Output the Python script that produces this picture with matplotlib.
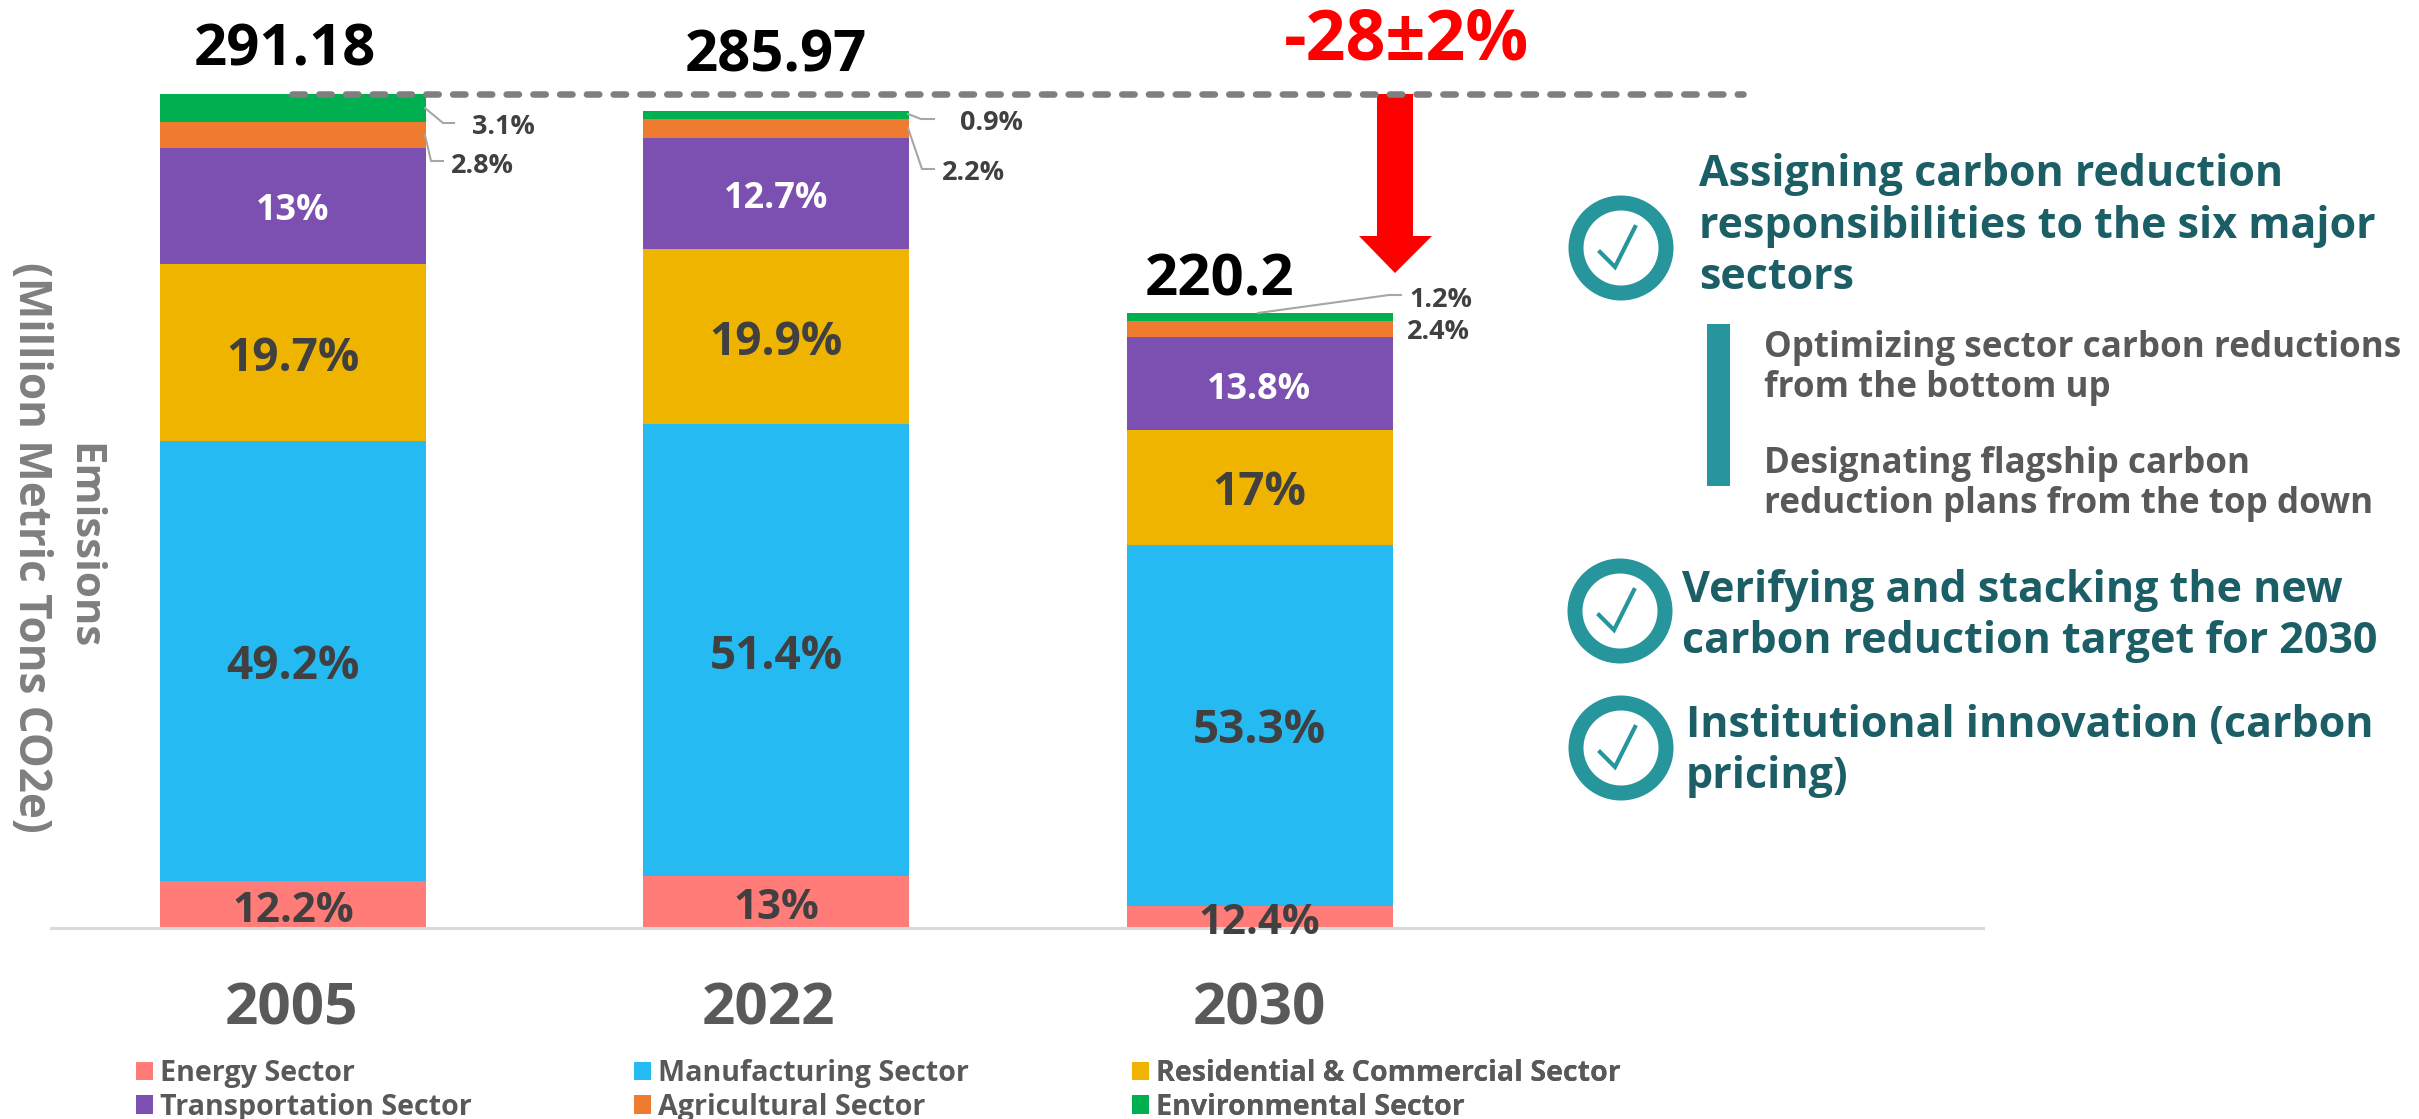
import matplotlib
matplotlib.use("Agg")
import matplotlib.pyplot as plt
from matplotlib.patches import Polygon, Ellipse, Rectangle
from matplotlib.transforms import ScaledTranslation

plt.rcParams['font.family'] = ['Open Sans', 'DejaVu Sans']
W, H = 2419, 1119

# ---- data (bar heights, million metric tons) ----
years = ["2005", "2022", "2030"]
sectors = ["Energy Sector", "Manufacturing Sector", "Residential & Commercial Sector",
           "Transportation Sector", "Agricultural Sector", "Environmental Sector"]
energy = [16.4, 18.2, 7.7]
manufacturing = [153.6, 157.8, 126.0]
residential = [61.8, 61.1, 40.2]
transportation = [40.5, 38.8, 32.5]
agricultural = [9.1, 6.6, 5.6]
environmental = [9.8, 2.8, 2.8]
totals = ["291.18", "285.97", "220.2"]
pct_energy = ["12.2%", "13%", "12.4%"]
pct_manufacturing = ["49.2%", "51.4%", "53.3%"]
pct_residential = ["19.7%", "19.9%", "17%"]
pct_transportation = ["13%", "12.7%", "13.8%"]
pct_agricultural = ["2.8%", "2.2%", "2.4%"]
pct_environmental = ["3.1%", "0.9%", "1.2%"]
series = [energy, manufacturing, residential, transportation, agricultural, environmental]
colors = ["#FF7C78", "#25BBF2", "#EFB400", "#7B50B0", "#EE7B30", "#00B050"]

TEAL = "#26959C"
DTEAL = "#1B5E65"
GREY = "#595959"
DARK = "#404040"

fig = plt.figure(figsize=(W / 100, H / 100), dpi=100, facecolor="white")
ax = fig.add_axes([51 / W, 1 - 928 / H, 1932 / W, 928 / H])
ax.set_xlim(-0.5, 3.495)
ax.set_ylim(0, 324.0)

bottom = [0, 0, 0]
for vals, c, name in zip(series, colors, sectors):
    ax.bar(range(3), vals, width=0.55, bottom=bottom, color=c, label=name)
    bottom = [b + v for b, v in zip(bottom, vals)]

for s in ("top", "left", "right"):
    ax.spines[s].set_visible(False)
ax.spines["bottom"].set_color("#D9D9D9")
ax.spines["bottom"].set_linewidth(2.2)
ax.set_yticks([])
ax.set_xticks(range(3))
ax.set_xticklabels(years, fontsize=42, fontweight="bold", color=GREY)
ax.tick_params(axis="x", length=0, pad=38)
offs = [-1, -8, -1]
for lab, o in zip(ax.get_xticklabels(), offs):
    lab.set_transform(lab.get_transform() + ScaledTranslation(o / 100, 0, fig.dpi_scale_trans))

ov = fig.add_axes([0, 0, 1, 1], facecolor="none")
ov.set_xlim(0, W)
ov.set_ylim(H, 0)
ov.axis("off")


def T(x, y, s, px, color=DARK, ha="center", **kw):
    ov.text(x, y, s, fontsize=px * 0.72, color=color, ha=ha, va="baseline",
            fontweight="bold", **kw)


# totals
for x, y, s in zip([285, 776, 1220], [66, 71, 296], totals):
    T(x, y, s, 58, "black")

# in-bar labels
for x, y, s in zip([293, 776, 1259], [922, 919, 934], pct_energy):
    T(x, y, s, 42)
for x, y, s in zip([293, 776, 1259], [679, 669, 743], pct_manufacturing):
    T(x, y, s, 46)
for x, y, s in zip([293, 776, 1259], [371, 355, 505], pct_residential):
    T(x, y, s, 46)
for x, y, s in zip([293, 776, 1259], [220, 208, 399], pct_transportation):
    T(x, y, s, 36, "white")
for x, y, s in zip([451, 942, 1407], [173, 180, 339], pct_agricultural):
    T(x, y, s, 27, ha="left")
for x, y, s in zip([472, 960, 1409], [134, 130, 307], pct_environmental):
    T(x, y, s, 27, ha="left")

# leader lines
leaders = [[(425, 108), (443, 123), (454, 123)], [(425, 135), (431, 161), (443, 161)],
           [(908, 114), (921, 119), (934, 119)], [(908, 128), (922, 169), (934, 169)],
           [(1258, 313), (1389, 295), (1401, 295)]]
for pts in leaders:
    ov.plot([p[0] for p in pts], [p[1] for p in pts], color="#A6A6A6", lw=1.5)

# dashed reference line and arrow
ov.plot([292, 1743], [94, 94], color="#7F7F7F", lw=4.7, dash_capstyle="round",
        linestyle=(0, (1.9, 2.2)))
ov.add_patch(Polygon([(1377, 94), (1413, 94), (1413, 236), (1432, 236), (1395, 273),
                      (1359, 236), (1377, 236)], closed=True, fc="#FF0000", ec="none"))
T(1406, 59, "-28±2%", 70, "#FF0000")

# y-axis caption
ov.text(83, 546, "Emissions", rotation=270, fontsize=42 * 0.72, color="#7F7F7F",
        fontweight="bold", ha="center", va="center")
ov.text(30, 547, "(Million Metric Tons CO2e)", rotation=270, fontsize=44 * 0.72,
        color="#7F7F7F", fontweight="bold", ha="center", va="center")

# right-hand notes
for cx, cy in [(1621, 248), (1620, 611), (1621, 748)]:
    ov.add_patch(Ellipse((cx, cy), 90, 90, fc="white", ec=TEAL, lw=15 * 0.72))
    ov.plot([cx - 21, cx - 6, cx + 14], [cy + 4, cy + 19, cy - 21], color=TEAL, lw=3,
            solid_joinstyle="miter")
ov.add_patch(Rectangle((1707, 324), 23, 162, fc=TEAL, ec="none"))

for x, y, s in [(1699, 186, "Assigning carbon reduction"),
                (1699, 238, "responsibilities to the six major"),
                (1699, 289, "sectors"),
                (1682, 602, "Verifying and stacking the new"),
                (1682, 653, "carbon reduction target for 2030"),
                (1686, 737, "Institutional innovation (carbon"),
                (1686, 788, "pricing)")]:
    T(x, y, s, 43, DTEAL, ha="left")
for x, y, s in [(1764, 357, "Optimizing sector carbon reductions"),
                (1764, 397, "from the bottom up"),
                (1764, 473, "Designating flagship carbon"),
                (1764, 513, "reduction plans from the top down")]:
    T(x, y, s, 35, GREY, ha="left")

# legend, one block per column
handles, labels = ax.get_legend_handles_labels()
cols = [(0, 3, 136), (1, 4, 634), (2, 5, 1132)]
for a, b, x in cols:
    leg = ov.legend([handles[a], handles[b]], [labels[a], labels[b]],
                    loc="upper left", bbox_to_anchor=(x, 1059), bbox_transform=ov.transData,
                    frameon=False, handlelength=0.6, handleheight=0.6,
                    handletextpad=0.25, labelspacing=0.16, borderpad=0, borderaxespad=0,
                    prop={"family": "Open Sans", "weight": "bold", "size": 28.6 * 0.72})
    for t in leg.get_texts():
        t.set_color(GREY)
    ov.add_artist(leg)

fig.savefig("out.png", dpi=100, facecolor="white")
